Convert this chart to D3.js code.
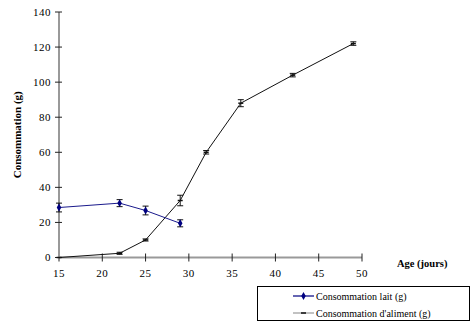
<!DOCTYPE html>
<html><head><meta charset="utf-8">
<script src="https://cdn.jsdelivr.net/npm/d3@7"></script>
<style>body{margin:0;background:#fff}svg{display:block}</style>
</head><body>
<script>
const xTicks = [15,20,25,30,35,40,45,50];
const yTicks = [0,20,40,60,80,100,120,140];
const laitAge = [15,22,25,29];
const laitVal = [28.5,31,26.8,19.5];
const laitErr = [2.5,2,2.5,2];
const alimAge = [15,22,25,29,32,36,42,49];
const alimVal = [0,2.4,10,32.5,60,88,104,122];
const alimErr = [0,0.6,0.6,3,1,2,1,1];
const seriesNames = ["Consommation lait (g)","Consommation d'aliment (g)"];

const W=474,H=323;
const svg=d3.select("body").append("svg").attr("width",W).attr("height",H)
  .attr("font-family","'Liberation Serif', 'Times New Roman', Times, serif");
const x=d3.scaleLinear().domain([15,50]).range([59,362]);
const y=d3.scaleLinear().domain([0,140]).range([257.5,12]);

const gx=svg.append("g").attr("transform","translate(0,"+y(0)+")");
gx.append("line").attr("x1",x(15)).attr("x2",x(50)).attr("stroke","#999").attr("stroke-width",2);
xTicks.forEach(t=>{
  gx.append("line").attr("x1",x(t)).attr("x2",x(t)).attr("y1",-4).attr("y2",4).attr("stroke","#222");
  gx.append("text").attr("x",x(t)).attr("y",19).attr("text-anchor","middle").attr("font-size",11).attr("letter-spacing",0.5).text(t);
});
const gy=svg.append("g").attr("transform","translate("+x(15)+",0)");
gy.append("line").attr("y1",y(0)).attr("y2",y(140)).attr("stroke","#999").attr("stroke-width",2);
yTicks.forEach(t=>{
  gy.append("line").attr("x1",-4).attr("x2",3).attr("y1",y(t)).attr("y2",y(t)).attr("stroke","#222");
  gy.append("text").attr("x",-8).attr("y",y(t)).attr("dy","0.35em").attr("text-anchor","end").attr("font-size",11).attr("letter-spacing",0.5).text(t);
});
svg.append("text").attr("transform","translate(21,"+(y(0)+y(140))/2+") rotate(-90)")
  .attr("text-anchor","middle").attr("font-size",11).attr("font-weight","bold").text("Consommation (g)");
svg.append("text").attr("x",397).attr("y",267).attr("font-size",10.5).attr("font-weight","bold").text("Age (jours)");

function errbars(ages,vals,errs,color){
  ages.forEach((a,i)=>{
    if(!errs[i])return;
    const cx=x(a),y1=y(vals[i]+errs[i]),y2=y(vals[i]-errs[i]);
    svg.append("line").attr("x1",cx).attr("x2",cx).attr("y1",y1).attr("y2",y2).attr("stroke",color);
    svg.append("line").attr("x1",cx-3).attr("x2",cx+3).attr("y1",y1).attr("y2",y1).attr("stroke",color);
    svg.append("line").attr("x1",cx-3).attr("x2",cx+3).attr("y1",y2).attr("y2",y2).attr("stroke",color);
  });
}
const line=d3.line();
const alimPts=alimAge.map((a,i)=>[x(a),y(alimVal[i])]);
svg.append("path").attr("d",line(alimPts)).attr("fill","none").attr("stroke","#111").attr("stroke-width",1);
errbars(alimAge,alimVal,alimErr,"#111");
alimPts.forEach(p=>svg.append("line").attr("x1",p[0]-2.5).attr("x2",p[0]+2.5).attr("y1",p[1]).attr("y2",p[1]).attr("stroke","#111").attr("stroke-width",1.5));
const laitPts=laitAge.map((a,i)=>[x(a),y(laitVal[i])]);
svg.append("path").attr("d",line(laitPts)).attr("fill","none").attr("stroke","#1a1a8c").attr("stroke-width",1);
errbars(laitAge,laitVal,laitErr,"#111");
const diamond=d3.symbol().type(d3.symbolDiamond).size(18);
laitPts.forEach(p=>svg.append("path").attr("d",diamond()).attr("transform","translate("+p+")").attr("fill","#000080"));

const lg=svg.append("g");
lg.append("rect").attr("x",257.5).attr("y",286.5).attr("width",212).attr("height",34).attr("fill","#fff").attr("stroke","#000");
[0,1].forEach(i=>{
  const yy=296+i*17;
  lg.append("line").attr("x1",293).attr("x2",314).attr("y1",yy).attr("y2",yy).attr("stroke",i?"#999":"#000080").attr("stroke-width",1.2);
  if(i===0) lg.append("path").attr("d",diamond()).attr("transform","translate(303.5,"+yy+")").attr("fill","#000080");
  else lg.append("line").attr("x1",301).attr("x2",306).attr("y1",yy).attr("y2",yy).attr("stroke","#111").attr("stroke-width",1.5);
  lg.append("text").attr("x",316).attr("y",yy).attr("dy","0.35em").attr("font-size",10).text(seriesNames[i]);
});
</script>
</body></html>
